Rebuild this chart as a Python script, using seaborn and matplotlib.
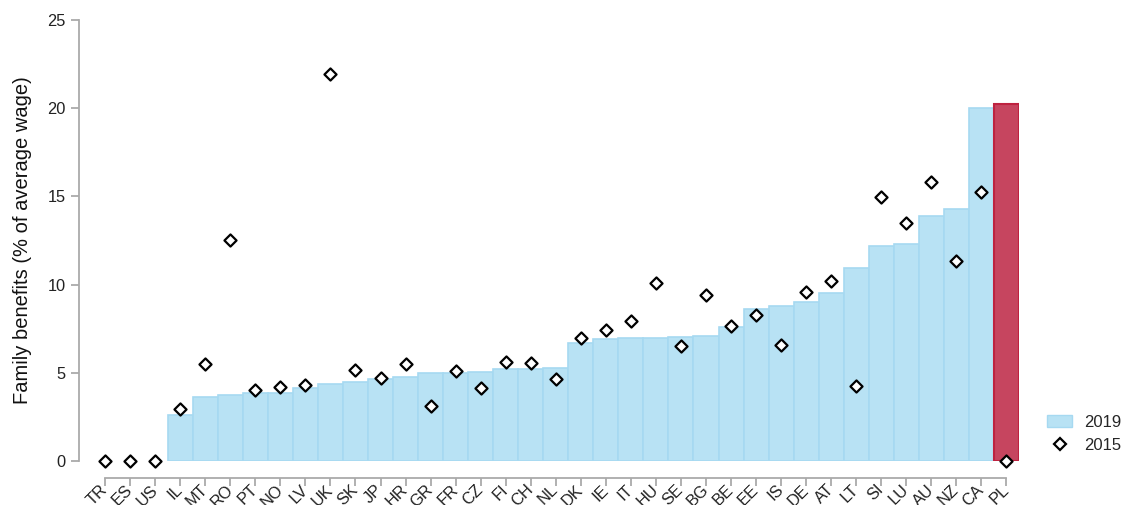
import numpy as np
import pandas as pd
import seaborn as sns
import matplotlib.pyplot as plt
from matplotlib.patches import Patch
from matplotlib.lines import Line2D

countries = ['TR', 'ES', 'US', 'IL', 'MT', 'RO', 'PT', 'NO', 'LV', 'UK', 'SK', 'JP', 'HR',
             'GR', 'FR', 'CZ', 'FI', 'CH', 'NL', 'DK', 'IE', 'IT', 'HU', 'SE', 'BG', 'BE',
             'EE', 'IS', 'DE', 'AT', 'LT', 'SI', 'LU', 'AU', 'NZ', 'CA', 'PL']
benefits_2019 = [0, 0, 0, 2.61, 3.65, 3.74, 3.84, 3.84, 4.16, 4.37, 4.48, 4.65, 4.76,
                 4.99, 4.99, 5.05, 5.22, 5.22, 5.27, 6.67, 6.90, 6.95, 6.95, 7.01, 7.07, 7.58,
                 8.60, 8.79, 9.00, 9.50, 10.94, 12.17, 12.28, 13.87, 14.27, 19.99, 20.26]
benefits_2015 = [0, 0, 0, 2.93, 5.48, 12.53, 4.04, 4.21, 4.29, 21.94, 5.14, 4.72, 5.48,
                 3.14, 5.08, 4.16, 5.59, 5.58, 4.63, 6.99, 7.43, 7.95, 10.07, 6.52, 9.43, 7.65,
                 8.29, 6.59, 9.60, 10.20, 4.25, 14.95, 13.47, 15.80, 11.34, 15.25, 0]
highlight = 'PL'

df = pd.DataFrame({'country': countries, 'y2019': benefits_2019, 'y2015': benefits_2015})

sns.set_style('white')
plt.rcParams['font.family'] = ['Liberation Sans', 'DejaVu Sans']

blue, blue_edge = '#b8e2f4', '#a6d9f1'
red, red_edge = '#c6455f', '#be2240'
grey = '#aaaaaa'

fig = plt.figure(figsize=(11.22, 5.05), dpi=100)
ax = fig.add_axes([79.3 / 1122, 1 - 461 / 505, (1019 - 79.3) / 1122, 441 / 505])

sns.barplot(data=df, x='country', y='y2019', color=blue, width=1.0, saturation=1,
            edgecolor=blue_edge, linewidth=1.2, ax=ax)
for patch, c, v in zip(ax.patches, df.country, df.y2019):
    if v == 0:
        patch.set_visible(False)
    if c == highlight:
        patch.set_facecolor(red)
        patch.set_edgecolor(red_edge)
        patch.set_linewidth(1.5)
        patch.set_zorder(3)

sns.scatterplot(data=df, x='country', y='y2015', marker='D', s=38, color='white',
                edgecolor='black', linewidth=1.6, zorder=4, clip_on=False, ax=ax)

ax.set_xlim(-1.03, 36.5)
ax.set_ylim(0, 25)
ax.set_yticks([0, 5, 10, 15, 20, 25])
ax.set_xlabel('')
ax.set_ylabel('Family benefits (% of average wage)', fontsize=14.5, color='#111', labelpad=11)

for s in ['top', 'right']:
    ax.spines[s].set_visible(False)
for s in ['left', 'bottom']:
    ax.spines[s].set_color(grey)
    ax.spines[s].set_linewidth(1.3)
ax.spines['bottom'].set_position(('outward', 12))
ax.spines['bottom'].set_bounds(0, len(countries) - 1)

ax.tick_params(axis='y', left=True, length=6, width=1.3, color=grey,
               labelsize=11.8, labelcolor='#222', pad=4)
ax.tick_params(axis='x', bottom=True, length=6, width=1.3, color=grey,
               labelsize=11.8, labelcolor='#222', pad=1)
plt.setp(ax.get_xticklabels(), rotation=45, ha='right', va='center', rotation_mode='anchor')

handles = [Patch(facecolor=blue, edgecolor=blue_edge, label='2019'),
           Line2D([], [], marker='D', linestyle='none', markersize=6, markerfacecolor='white',
                  markeredgecolor='black', markeredgewidth=1.6, label='2015')]
fig.legend(handles=handles, loc='upper left', bbox_to_anchor=(1047 / 1122, 1 - 415 / 505),
           frameon=False, fontsize=12, handlelength=1.5, handleheight=0.75, labelspacing=0.5,
           handletextpad=0.7, borderpad=0, borderaxespad=0)

fig.savefig('out.png', dpi=100)
